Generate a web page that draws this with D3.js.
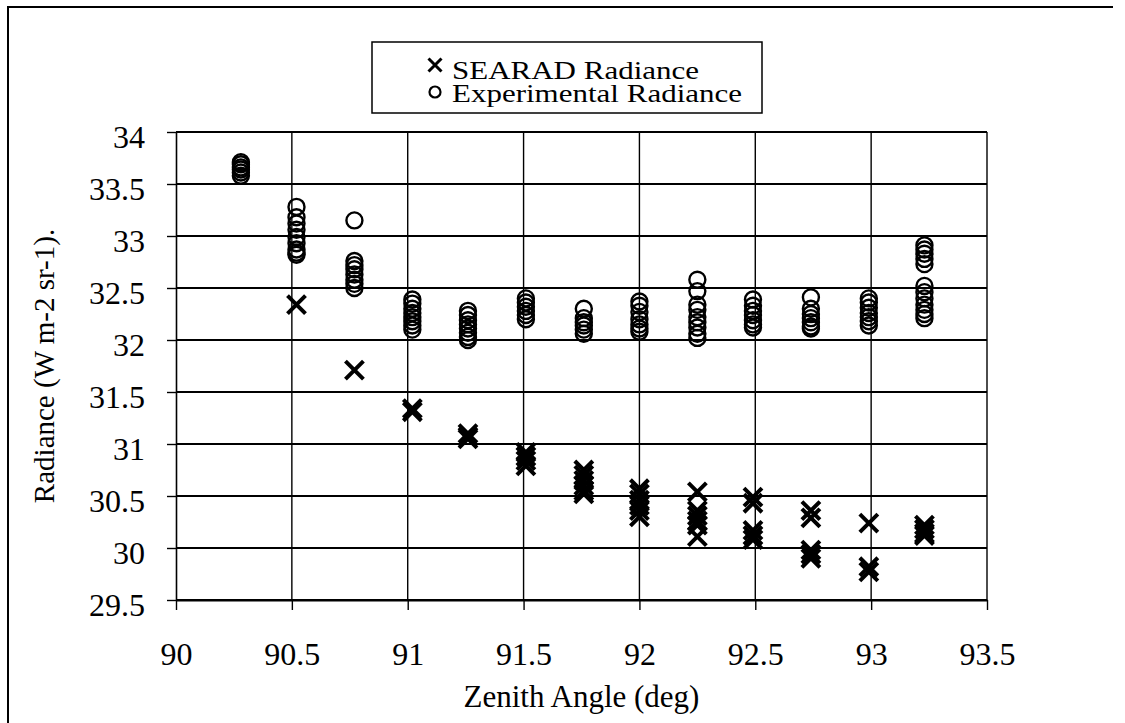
<!DOCTYPE html>
<html>
<head>
<meta charset="utf-8">
<script src="https://cdn.jsdelivr.net/npm/d3@7"></script>
<style>
  html, body { margin: 0; padding: 0; background: #fff; }
  svg { display: block; }
  text { font-family: "Liberation Serif", "Times New Roman", serif; fill: #000; }
</style>
</head>
<body>
<svg id="chart" width="1125" height="723"></svg>
<script>
// Zenith angles of each scan position (deg)
const zenithAngles = [90.28, 90.52, 90.77, 91.02, 91.26, 91.51, 91.76, 92.00, 92.25, 92.49, 92.74, 92.99, 93.23];

// Modelled radiance at each angle (W m-2 sr-1)
const searadRadiance = [
  [],
  [32.34],
  [31.71],
  [31.34, 31.31],
  [31.10, 31.07, 31.05],
  [30.92, 30.88, 30.84, 30.79],
  [30.75, 30.70, 30.65, 30.60, 30.55, 30.52],
  [30.57, 30.52, 30.46, 30.41, 30.36, 30.30],
  [30.54, 30.36, 30.31, 30.26, 30.22, 30.11],
  [30.49, 30.43, 30.17, 30.12, 30.08],
  [30.36, 30.29, 29.98, 29.94, 29.90],
  [30.24, 29.82, 29.77],
  [30.22, 30.18, 30.14, 30.12]
];

// Measured radiance at each angle (W m-2 sr-1)
const experimentalRadiance = [
  [33.71, 33.69, 33.66, 33.64, 33.61, 33.58],
  [33.28, 33.18, 33.12, 33.06, 32.99, 32.93, 32.87, 32.84, 32.82],
  [33.15, 32.76, 32.72, 32.68, 32.63, 32.58, 32.54, 32.50],
  [32.39, 32.35, 32.30, 32.26, 32.22, 32.18, 32.14, 32.10],
  [32.28, 32.24, 32.19, 32.15, 32.11, 32.07, 32.03, 32.00],
  [32.40, 32.36, 32.32, 32.28, 32.24, 32.20],
  [32.30, 32.21, 32.17, 32.14, 32.10, 32.06],
  [32.37, 32.33, 32.27, 32.20, 32.15, 32.11, 32.08],
  [32.58, 32.47, 32.34, 32.29, 32.22, 32.17, 32.12, 32.06, 32.02],
  [32.39, 32.33, 32.28, 32.24, 32.19, 32.15, 32.12],
  [32.41, 32.30, 32.25, 32.21, 32.17, 32.13, 32.11],
  [32.40, 32.36, 32.31, 32.26, 32.22, 32.18, 32.14],
  [32.91, 32.87, 32.83, 32.78, 32.73, 32.52, 32.46, 32.40, 32.34, 32.29, 32.25, 32.21]
];

const xTicks = [90, 90.5, 91, 91.5, 92, 92.5, 93, 93.5];
const yTicks = [29.5, 30, 30.5, 31, 31.5, 32, 32.5, 33, 33.5, 34];
const legendLabels = ["SEARAD Radiance", "Experimental Radiance"];
const xTitle = "Zenith Angle (deg)";
const yTitle = "Radiance (W m-2 sr-1).";

const serif = '"Liberation Serif", "Times New Roman", serif';
const svg = d3.select("#chart");
const plot = { left: 176, right: 987, top: 132, bottom: 600 };

const x = d3.scaleLinear().domain([90, 93.5]).range([plot.left, plot.right]);
const y = d3.scaleLinear().domain([29.5, 34]).range([plot.bottom, plot.top]);

// outer frame (top and left edges)
svg.append("path")
  .attr("d", "M8,723V7H1113")
  .attr("fill", "none").attr("stroke", "#000").attr("stroke-width", 2);

// grid
svg.append("g").selectAll("line").data(yTicks).join("line")
  .attr("x1", plot.left).attr("x2", plot.right)
  .attr("y1", d => y(d)).attr("y2", d => y(d))
  .attr("stroke", "#000").attr("stroke-width", 2);
svg.append("g").selectAll("line").data(xTicks.slice(1)).join("line")
  .attr("x1", d => x(d)).attr("x2", d => x(d))
  .attr("y1", plot.top).attr("y2", plot.bottom)
  .attr("stroke", "#000").attr("stroke-width", 1.4);

const fmt = d => String(+d.toFixed(1));

// x axis
const gx = svg.append("g").attr("transform", `translate(0,${plot.bottom})`)
  .call(d3.axisBottom(x).tickValues(xTicks).tickFormat(fmt).tickSize(10).tickPadding(55).tickSizeOuter(0));
gx.attr("font-family", null).attr("font-size", null);
gx.select(".domain").attr("stroke", "#000").attr("stroke-width", 2);
gx.selectAll(".tick line").attr("stroke", "#000").attr("stroke-width", 1.4);
gx.selectAll(".tick text").attr("font-family", serif).style("font-family", serif)
  .style("font-size", "32px").attr("dy", 0);

// y axis
const gy = svg.append("g").attr("transform", `translate(${plot.left},0)`)
  .call(d3.axisLeft(y).tickValues(yTicks).tickFormat(fmt).tickSize(9).tickPadding(22).tickSizeOuter(0));
gy.attr("font-family", null).attr("font-size", null);
gy.select(".domain").attr("stroke", "#000").attr("stroke-width", 1.6);
gy.selectAll(".tick line").attr("stroke", "#000").attr("stroke-width", 1.4);
gy.selectAll(".tick text").attr("font-family", serif).style("font-family", serif)
  .style("font-size", "32px").attr("dy", "0.47em");

// axis titles
svg.append("text").attr("x", (plot.left + plot.right) / 2).attr("y", 707)
  .attr("text-anchor", "middle").style("font-size", "31px").text(xTitle);
svg.append("text").attr("transform", `translate(54,${(plot.top + plot.bottom) / 2}) rotate(-90)`)
  .attr("text-anchor", "middle").style("font-size", "29px").text(yTitle);

// flatten series into points
const searadPts = zenithAngles.flatMap((a, i) => searadRadiance[i].map(v => ({ a, v })));
const expPts = zenithAngles.flatMap((a, i) => experimentalRadiance[i].map(v => ({ a, v })));

const crossPath = s => `M${-s},${-s}L${s},${s}M${-s},${s}L${s},${-s}`;

svg.append("g").selectAll("circle").data(expPts).join("circle")
  .attr("cx", d => x(d.a)).attr("cy", d => y(d.v)).attr("r", 8)
  .attr("fill", "none").attr("stroke", "#000").attr("stroke-width", 2.4);

svg.append("g").selectAll("path").data(searadPts).join("path")
  .attr("transform", d => `translate(${x(d.a)},${y(d.v)})`)
  .attr("d", crossPath(9))
  .attr("fill", "none").attr("stroke", "#000").attr("stroke-width", 4);

// legend
const lg = svg.append("g");
lg.append("rect").attr("x", 372).attr("y", 42).attr("width", 390).attr("height", 71)
  .attr("fill", "#fff").attr("stroke", "#000").attr("stroke-width", 1.5);
lg.append("path").attr("transform", "translate(435,65)").attr("d", crossPath(6.5))
  .attr("stroke", "#000").attr("stroke-width", 3).attr("fill", "none");
lg.append("circle").attr("cx", 435).attr("cy", 92).attr("r", 5.5)
  .attr("fill", "none").attr("stroke", "#000").attr("stroke-width", 2.2);
lg.selectAll("text").data(legendLabels).join("text")
  .attr("transform", (d, i) => `translate(452,${79 + i * 23}) scale(1.24,1)`)
  .style("font-size", "25px").text(d => d);
</script>
</body>
</html>
